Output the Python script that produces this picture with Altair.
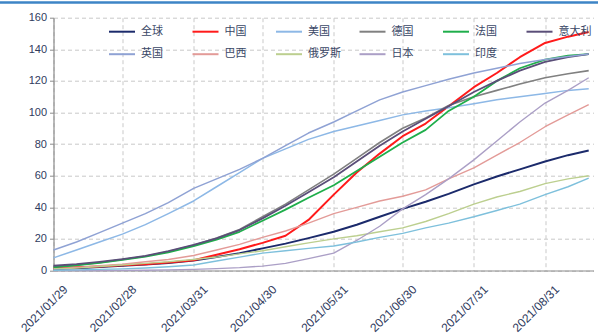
import altair as alt
import pandas as pd

# Sample dates (roughly every ten days)
dates = ["2021-01-29", "2021-02-08", "2021-02-18", "2021-02-28", "2021-03-10",
         "2021-03-20", "2021-03-31", "2021-04-10", "2021-04-20", "2021-04-30",
         "2021-05-10", "2021-05-20", "2021-05-31", "2021-06-10", "2021-06-20",
         "2021-06-30", "2021-07-10", "2021-07-20", "2021-07-31", "2021-08-10",
         "2021-08-20", "2021-08-31", "2021-09-10", "2021-09-19"]

# Cumulative vaccine doses per 100 people
world   = [1.0, 1.5, 2.2, 3.0, 3.8, 4.8, 6.3, 8.5, 11, 14, 17, 20.5, 24.5, 29, 34, 39, 43.5, 48.5, 54.5, 59.5, 64, 69, 73, 76]
china   = [1.5, 2.0, 2.5, 3.3, 4.0, 5.0, 6.5, 10, 13.5, 17.5, 22, 32, 48, 62, 74, 85, 93, 104, 116, 125, 135, 144, 148, 151]
usa     = [8, 13, 18, 23, 29, 36, 44, 53, 62, 71, 77, 83, 88, 91.5, 95, 98.5, 101, 103, 105.5, 108, 110, 112, 114, 115]
germany = [2.5, 3.5, 5, 7, 9, 12, 16, 20.5, 26, 34, 42, 51, 61, 71, 81, 90, 96.5, 104.5, 110, 114, 118, 122, 124.5, 126.5]
france  = [2, 3.3, 4.8, 6.8, 8.8, 11.5, 15.5, 19.5, 24.5, 31.5, 38.5, 46, 54, 63, 72, 81, 89, 101, 110, 120, 128, 133.5, 136, 137]
italy   = [3, 4, 5.5, 7.2, 9.3, 12.3, 16.2, 20.3, 25.6, 33, 41, 49.5, 59, 69, 79, 88, 96, 104, 113, 120, 126.5, 132, 135, 137]
uk      = [13, 18, 24, 30, 36, 43, 52, 58, 64, 71, 79, 87, 94, 101, 108, 113, 117, 121, 125, 128, 131, 133.5, 135.5, 137]
brazil  = [1, 2, 3, 4, 5.5, 7, 9.5, 13, 16.5, 21, 25, 30, 36, 40, 44, 47, 51, 58, 65, 73, 81, 91, 98.5, 105]
russia  = [1, 1.5, 2.5, 3.5, 4.5, 5.5, 7, 8.5, 10.5, 12.5, 15, 17.5, 20, 22, 24.5, 27, 31, 36, 42, 46.5, 50, 55, 58, 60]
japan   = [0, 0, 0, 0.1, 0.2, 0.4, 0.7, 1.2, 1.8, 2.8, 4.5, 7.5, 11, 19, 28, 39, 48, 58, 70, 82, 94, 106, 114, 122]
india   = [0.2, 0.4, 0.7, 1, 1.6, 2.4, 3.5, 6, 8.5, 11, 12.5, 14, 15.5, 18, 21, 23.5, 27, 30, 34, 38, 42, 48, 53, 58.5]

names = ["全球", "中国", "美国", "德国", "法国", "意大利", "英国", "巴西", "俄罗斯", "日本", "印度"]
series = [world, china, usa, germany, france, italy, uk, brazil, russia, japan, india]
colors = ["#1b2a6b", "#ff1a1a", "#8db8e6", "#808080", "#1fae4b", "#5a4e78",
          "#8fa2d4", "#e39b98", "#bccf8f", "#ab9fc6", "#7ec0dc"]
widths = [2.0, 2.0, 1.5, 1.6, 1.8, 1.8, 1.5, 1.4, 1.4, 1.4, 1.4]

tick_dates = [(1, 29), (2, 28), (3, 31), (4, 30), (5, 31), (6, 30), (7, 31), (8, 31)]

rows = []
for name, vals, w in zip(names, series, widths):
    for d, v in zip(dates, vals):
        rows.append({"date": d, "value": v, "series": name, "w": w})
df = pd.DataFrame(rows)

tick_values = [alt.DateTime(year=2021, month=m, date=d, utc=True) for m, d in tick_dates]

lines = alt.Chart(df).mark_line(strokeJoin="round").encode(
    x=alt.X(
        "date:T",
        title=None,
        scale=alt.Scale(
            type="utc",
            domain=[alt.DateTime(year=2021, month=1, date=29, utc=True),
                    alt.DateTime(year=2021, month=9, date=21, hours=2, utc=True)],
        ),
        axis=alt.Axis(
            values=tick_values,
            labelExpr="utcFormat(datum.value, '%Y/%m/%d')",
            labelAngle=-45,
            labelAlign="right",
            labelBaseline="top",
            labelFontSize=12,
            labelOffset=8,
            labelPadding=13,
            ticks=False,
            grid=True,
            gridDash=[4, 3],
            gridColor="#c9c9c9",
        ),
    ),
    y=alt.Y(
        "value:Q",
        title=None,
        scale=alt.Scale(domain=[0, 160], nice=False),
        axis=alt.Axis(
            values=list(range(0, 161, 20)),
            tickSize=4,
            labelPadding=3,
            grid=True,
            gridDash=[4, 3],
            gridColor="#c9c9c9",
        ),
    ),
    color=alt.Color(
        "series:N",
        sort=names,
        scale=alt.Scale(domain=names, range=colors),
        legend=alt.Legend(
            title=None,
            orient="none",
            legendX=54.5,
            legendY=0,
            direction="horizontal",
            columns=6,
            gridAlign="all",
            symbolType="stroke",
            symbolSize=676,
            symbolStrokeWidth=2,
            labelFont="Noto Sans CJK SC",
            labelFontSize=11,
            labelColor="#3a4766",
            labelOffset=5,
            columnPadding=14.5,
            rowPadding=3.5,
            padding=0,
        ),
    ),
    strokeWidth=alt.StrokeWidth("w:Q", scale=None, legend=None),
)

# Blue frame line along the top edge
top_rule = alt.Chart(pd.DataFrame({"k": [0]})).mark_rule(
    color="#3d84c6", strokeWidth=2.5
).encode(x=alt.value(-53.5), x2=alt.value(544.5), y=alt.value(-15.2))

chart = (
    alt.layer(lines, top_rule)
    .properties(
        width=540,
        height=252.8,
        autosize=alt.AutoSizeParams(type="none"),
        padding={"left": 53.5, "top": 17.7, "right": 6.5, "bottom": 63.5},
        background="white",
    )
    .configure_view(strokeWidth=0)
    .configure_axis(
        domainColor="#8c8c8c",
        domainWidth=1.2,
        tickColor="#8c8c8c",
        labelFont="Liberation Sans",
        labelFontSize=11,
        labelColor="#2f3b5e",
    )
)

chart.save("out.html", embed_options={"renderer": "svg", "actions": False})
